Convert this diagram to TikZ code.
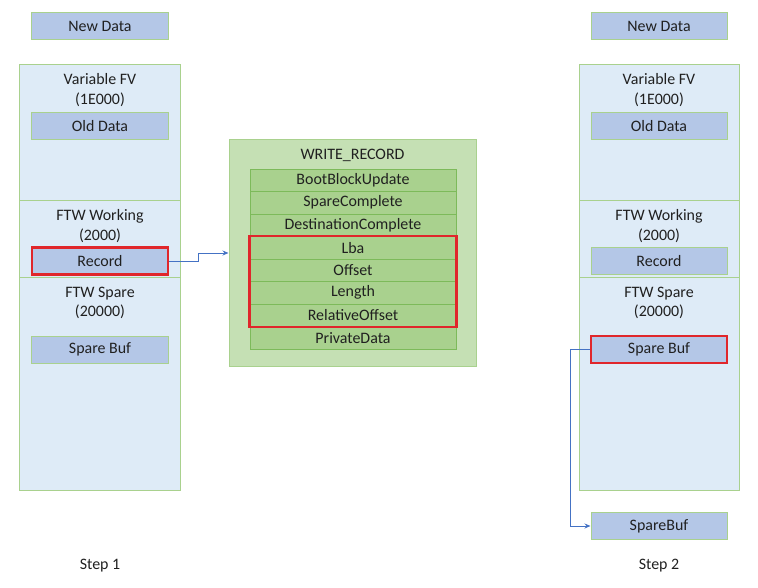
\documentclass[tikz,border=0pt]{standalone}
\usepackage{fontspec}
\setmainfont{Carlito}
\usetikzlibrary{arrows.meta}
\definecolor{blkfill}{HTML}{DEEBF7}
\definecolor{blkline}{HTML}{A9D18E}
\definecolor{boxfill}{HTML}{B4C7E7}
\definecolor{wrfill}{HTML}{C5E0B4}
\definecolor{rowfill}{HTML}{A9D18E}
\definecolor{rowline}{HTML}{7DBA5A}
\definecolor{redline}{HTML}{E0262B}
\definecolor{arrblue}{HTML}{4472C4}
\definecolor{txt}{HTML}{202020}
\begin{document}
\begin{tikzpicture}[x=1bp,y=-1bp,
  every node/.style={font=\fontsize{16}{19.5}\selectfont, text=txt, inner sep=0pt},
  block/.style={draw=blkline, fill=blkfill, line width=1bp, minimum width=160bp},
  ibox/.style={draw=blkline, fill=boxfill, line width=1bp, minimum width=136bp, minimum height=27bp},
  redbox/.style={draw=redline, line width=2.5bp},
  wrbox/.style={draw=blkline, fill=wrfill, line width=1bp, minimum width=247bp, minimum height=226bp},
  row/.style={draw=rowline, fill=rowfill, line width=0.8bp, minimum width=206bp, minimum height=22.5bp},
  conn/.style={draw=arrblue, line width=1bp, -{Stealth[length=6bp,width=5bp]}},
  lbl/.style={align=center}
]
\useasboundingbox (0,0) rectangle (758,588);

% ---------- Step 1 ----------
\node[ibox] (ndL) at (100,26.5) {New Data};
\node[block, minimum height=136bp] (vfvL) at (100,133) {};
\node[block, minimum height=77bp] (ftwL) at (100,239.5) {};
\node[block, minimum height=212bp] (spL) at (100,384) {};
\node[lbl] (vfvtL) at (100,90) {Variable FV\\(1E000)};
\node[ibox] (odL) at (100,126) {Old Data};
\node[lbl] (ftwtL) at (100,226) {FTW Working\\(2000)};
\node[ibox, redbox] (recL) at (100,261) {Record};
\node[lbl] (sptL) at (100,303) {FTW Spare\\(20000)};
\node[ibox] (sbL) at (100,349.5) {Spare Buf};
\node (s1) at (100,566) {Step 1};

% ---------- WRITE_RECORD ----------
\node[wrbox] (wr) at (352.5,253) {};
\node (wrt) at (352.5,155) {WRITE\_RECORD};
\node[row] (r1) at (353,180.25) {BootBlockUpdate};
\node[row] (r2) at (353,202.75) {SpareComplete};
\node[row] (r3) at (353,225.25) {DestinationComplete};
\node[row] (r4) at (353,247.75) {Lba};
\node[row] (r5) at (353,270.25) {Offset};
\node[row] (r6) at (353,292.75) {Length};
\node[row] (r7) at (353,315.25) {RelativeOffset};
\node[row] (r8) at (353,337.75) {PrivateData};
\draw[redline, line width=2.5bp] (r4.north west) rectangle (r7.south east);

% ---------- Step 2 ----------
\node[ibox] (ndR) at (659,26.5) {New Data};
\node[block, minimum height=136bp] (vfvR) at (659,133) {};
\node[block, minimum height=77bp] (ftwR) at (659,239.5) {};
\node[block, minimum height=212bp] (spR) at (659,384) {};
\node[lbl] (vfvtR) at (659,90) {Variable FV\\(1E000)};
\node[ibox] (odR) at (659,126) {Old Data};
\node[lbl] (ftwtR) at (659,226) {FTW Working\\(2000)};
\node[ibox] (recR) at (659,261) {Record};
\node[lbl] (sptR) at (659,303) {FTW Spare\\(20000)};
\node[ibox, redbox] (sbR) at (659,349.5) {Spare Buf};
\node[ibox] (sbuf) at (659,526) {SpareBuf};
\node (s2) at (659,566) {Step 2};

% ---------- connectors ----------
\coordinate (k1) at (198,253);
\draw[conn] (recL.east) -| (k1) -- (wr.west |- k1);
\coordinate (k2) at (570,349.5);
\draw[conn] (sbR.west) -- (k2) |- (sbuf.west);
\end{tikzpicture}
\end{document}
